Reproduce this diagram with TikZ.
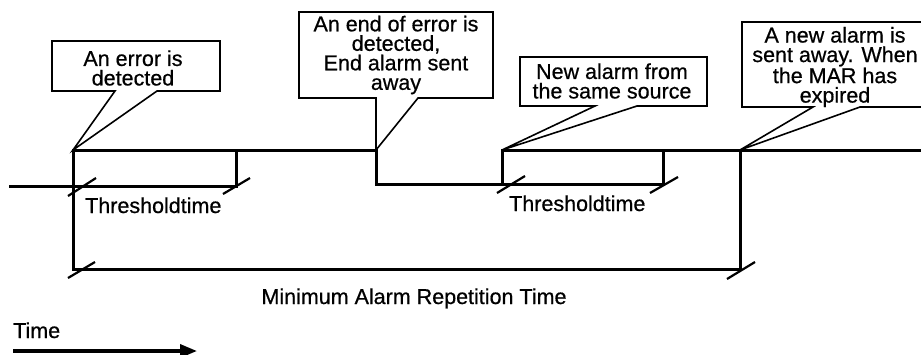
\documentclass[tikz,border=0pt]{standalone}
\usepackage{fontspec}
\setmainfont{Liberation Sans}[FakeBold=0.6]
\usetikzlibrary{arrows.meta}
\begin{document}
\begin{tikzpicture}[x=1pt,y=-1pt,
  font=\fontsize{21.5}{19.5}\selectfont,
  sig/.style={line width=3pt, line join=miter, line cap=rect},
  callout/.style={draw, line width=1.6pt, fill=white, line join=miter},
  tickmark/.style={line width=2.2pt},
  lbl/.style={inner sep=0pt, align=center}]
\useasboundingbox (0,0) rectangle (921,354);
\begin{scope}
\clip (0,0) rectangle (921,354);
% key points of the signal
\coordinate (s0) at (10,186);
\coordinate (e1) at (73,186);
\coordinate (e1t) at (73,150);
\coordinate (e2t) at (376,150);
\coordinate (e2) at (376,184);
\coordinate (n1) at (502,184);
\coordinate (n1t) at (502,150);
\coordinate (m1t) at (740,150);
\coordinate (send) at (925,150);
\coordinate (th1) at (236,186);
\coordinate (th1t) at (236,150);
\coordinate (th2) at (663,184);
\coordinate (th2t) at (663,150);
\coordinate (mar0) at (73,269);
\coordinate (mar1) at (740,269);
% signal
\draw[sig] (s0) -- (e1) -- (e1t) -- (e2t) -- (e2) -- (n1) -- (n1t) -- (send);
% threshold times
\draw[sig] (e1) -- (th1) -- (th1t);
\draw[sig] (n1) -- (th2) -- (th2t);
% minimum alarm repetition time
\draw[sig] (e1) -- (mar0) -- (mar1) -- (m1t);
% tick marks
\draw[tickmark] ([shift={(-5,10)}]e1) -- ([shift={(23,-8)}]e1);
\draw[tickmark] ([shift={(-5,9)}]n1) -- ([shift={(23,-8)}]n1);
\draw[tickmark] ([shift={(-5,9)}]mar0) -- ([shift={(22,-7)}]mar0);
\draw[tickmark] ([shift={(-13,8)}]th1) -- ([shift={(14,-8)}]th1);
\draw[tickmark] ([shift={(-13,9)}]th2) -- ([shift={(15,-7)}]th2);
\draw[tickmark] ([shift={(-13,10)}]mar1) -- ([shift={(15,-7)}]mar1);
% callouts
\draw[callout] (52,41) -- (220,41) -- (220,91) -- (157,91) -- (e1t) -- (115,91) -- (52,91) -- cycle;
\draw[callout] (299,12) -- (493,12) -- (493,98) -- (418,98) -- (e2t) -- (376,98) -- (299,98) -- cycle;
\draw[callout] (520,57) -- (707,57) -- (707,106) -- (637,106) -- (n1t) -- (595,106) -- (520,106) -- cycle;
\draw[callout] (742,22) -- (935,22) -- (935,107) -- (860,107) -- (m1t) -- (813,107) -- (742,107) -- cycle;
\node[lbl] (t1) at (133,68) {An error is\\detected};
\node[lbl] (t2) at (396,55) {An end of error is\\detected,\\End alarm sent\\away};
\node[lbl] (t3) at (612,81) {New alarm from\\the same source};
\node[lbl] (t4) at (835,67) {A new alarm is\\sent away. When\\the MAR has\\expired};
% labels
\node[lbl, anchor=base west] (thl1) at (85,213) {Thresholdtime};
\node[lbl, anchor=base west] (thl2) at (509,211) {Thresholdtime};
\node[lbl, anchor=base] (marl) at (414,304) {Minimum Alarm Repetition Time};
\node[lbl, anchor=base west] (timel) at (13,338) {Time};
% time arrow
\coordinate (a0) at (13,351);
\coordinate (a1) at (197,351);
\draw[line width=3.5pt, -{Triangle[length=17pt,width=13pt]}] (a0) -- (a1);
\end{scope}
\end{tikzpicture}
\end{document}
